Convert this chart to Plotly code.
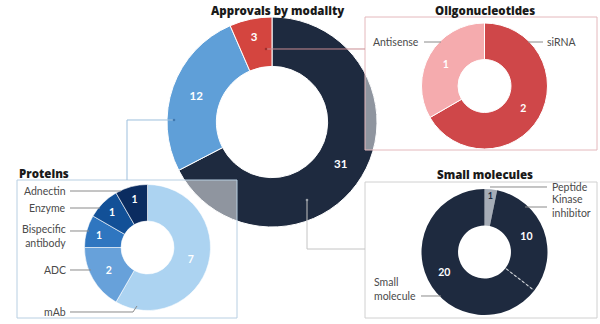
import numpy as np
import plotly.graph_objects as go

# ---------------- data ----------------
main_labels = ["Small molecules", "Proteins", "Oligonucleotides"]
main_values = [31, 12, 3]
main_colors = ["#1e2a3f", "#5f9fd8", "#d4453f"]

oligo_labels = ["siRNA", "Antisense"]
oligo_values = [2, 1]
oligo_colors = ["#cf4749", "#f5abae"]

prot_labels = ["mAb", "ADC", "Bispecific antibody", "Enzyme", "Adnectin"]
prot_values = [7, 2, 1, 1, 1]
prot_colors = ["#acd3f1", "#67a1da", "#2f76c0", "#125097", "#0b2c60"]

small_labels = ["Peptide", "Kinase inhibitor", "Small molecule"]
small_values = [1, 10, 20]
small_colors = ["#a6adb7", "#1e2a3f", "#1e2a3f"]

W, H = 600, 324
FONT = "Lato"
TFONT = "Open Sans"


def px(x):
    return x / W


def py(y):
    return 1 - y / H


def dom(cx, cy, d):
    return dict(x=[px(cx - d / 2), px(cx + d / 2)], y=[py(cy + d / 2), py(cy - d / 2)])


MAIN_C, MAIN_D, MAIN_HOLE = (272, 122), 210, 0.53
OL_C, SM_C, PR_C, SUB_D, SUB_HOLE = (484.5, 86), (484.5, 252), (147.5, 247.5), 126, 0.42

fig = go.Figure()


def add_pie(labels, values, colors, center, d, hole, txtcolors, size, lw=1.0):
    fig.add_trace(go.Pie(
        labels=labels, values=values, sort=False, direction="clockwise", rotation=0,
        hole=hole, domain=dom(center[0], center[1], d),
        marker=dict(colors=colors, line=dict(color="white", width=lw)),
        textinfo="value", textposition="inside", insidetextorientation="horizontal",
        textfont=dict(family=FONT, size=size, color=txtcolors, weight="bold"),
        showlegend=False, hoverinfo="label+value",
    ))


add_pie(main_labels, main_values, main_colors, MAIN_C, MAIN_D, MAIN_HOLE, ["white"] * 3, 11.5)
add_pie(oligo_labels, oligo_values, oligo_colors, OL_C, SUB_D, SUB_HOLE, ["white"] * 2, 10.5)
add_pie(prot_labels, prot_values, prot_colors, PR_C, SUB_D, SUB_HOLE, ["white"] * 5, 10.5, lw=0.6)
add_pie(small_labels, small_values, small_colors, SM_C, SUB_D, SUB_HOLE,
        ["#1e2a3f", "white", "white"], 10.5, lw=0)

shapes = []


def line(pts, color, width=1, dash="solid"):
    path = "M " + " L ".join(f"{px(x):.5f},{py(y):.5f}" for x, y in pts)
    shapes.append(dict(type="path", path=path, xref="paper", yref="paper",
                       line=dict(color=color, width=width, dash=dash), layer="above"))


def box(x0, y0, x1, y1, color):
    shapes.append(dict(type="rect", xref="paper", yref="paper", x0=px(x0), x1=px(x1),
                       y0=py(y1), y1=py(y0), line=dict(color=color, width=1),
                       fillcolor="rgba(0,0,0,0)", layer="above"))


def clip(poly, xmin, xmax, ymin, ymax):
    def clip_edge(pts, inside, inter):
        out = []
        for i in range(len(pts)):
            cur, prev = pts[i], pts[i - 1]
            if inside(cur):
                if not inside(prev):
                    out.append(inter(prev, cur))
                out.append(cur)
            elif inside(prev):
                out.append(inter(prev, cur))
        return out

    def ix(xc):
        return lambda a, b: (xc, a[1] + (b[1] - a[1]) * (xc - a[0]) / (b[0] - a[0]))

    def iy(yc):
        return lambda a, b: (a[0] + (b[0] - a[0]) * (yc - a[1]) / (b[1] - a[1]), yc)

    pts = clip_edge(poly, lambda p: p[0] >= xmin, ix(xmin))
    pts = clip_edge(pts, lambda p: p[0] <= xmax, ix(xmax))
    pts = clip_edge(pts, lambda p: p[1] >= ymin, iy(ymin))
    pts = clip_edge(pts, lambda p: p[1] <= ymax, iy(ymax))
    return pts


def veil(x0, y0, x1, y1):
    ang = np.linspace(0, 2 * np.pi, 240, endpoint=False)
    r = MAIN_D / 2
    circ = [(MAIN_C[0] + r * np.cos(a), MAIN_C[1] + r * np.sin(a)) for a in ang]
    pts = clip(circ, x0, x1, y0, y1)
    if len(pts) < 3:
        return
    path = "M " + " L ".join(f"{px(x):.5f},{py(y):.5f}" for x, y in pts) + " Z"
    shapes.append(dict(type="path", path=path, xref="paper", yref="paper",
                       fillcolor="rgba(255,255,255,0.5)", line=dict(width=0), layer="above"))


# panels
OL_BOX = (365, 17, 597, 150)
PR_BOX = (17, 180, 237, 318)
SM_BOX = (365, 182, 597, 318)
veil(*OL_BOX)
veil(*PR_BOX)
box(*OL_BOX, "#e4b8bc")
box(*PR_BOX, "#b8cfe2")
box(*SM_BOX, "#d0d0d0")

# connectors from main donut
line([(266, 49), (365, 49)], "#c98d92")
line([(174, 120), (127, 120), (127, 180)], "#9dbfdd")
line([(307, 200), (307, 249), (365, 249)], "#c4c4c4")
for (x, y, c) in [(266, 49, "#9e2f2c"), (174, 120, "#3f78b0"), (307, 200, "#9aa0a8")]:
    shapes.append(dict(type="circle", xref="paper", yref="paper", x0=px(x - 1.3), x1=px(x + 1.3),
                       y0=py(y + 1.3), y1=py(y - 1.3), fillcolor=c, line=dict(width=0), layer="above"))

# label leader lines
LC = "#8a8a8a"
line([(424, 42), (441, 42)], LC)
line([(528, 42), (543, 42)], LC)
line([(70, 191), (121, 191)], LC)
line([(70, 208), (100, 208)], LC)
line([(70, 231), (89, 231)], LC)
line([(70, 270), (91, 270)], LC)
line([(70, 312), (133, 312), (137, 306)], LC)
line([(490, 187), (547, 187)], LC)
line([(525, 207), (547, 207)], LC)
line([(421, 296), (441, 296)], LC)

# dashed divider between kinase inhibitor and small molecule
theta = 2 * np.pi * sum(small_values[:2]) / sum(small_values)
R = SUB_D / 2
r_in = R * SUB_HOLE
line([(SM_C[0] + r * np.sin(theta), SM_C[1] - r * np.cos(theta)) for r in (r_in + 1, R - 1)],
     "#c8ccd2", 1.2, "3px,2px")

fig.update_layout(shapes=shapes)

# text
TC = "#4a4a4a"
ann = []


def text(x, y, s, anchor="center", size=10.5, color=TC, bold=False, family=FONT):
    ann.append(dict(x=px(x), y=py(y), xref="paper", yref="paper", text=s, showarrow=False,
                    xanchor=anchor, yanchor="middle", align=anchor if anchor != "center" else "center",
                    font=dict(family=family, size=size, color=color, weight=800 if bold else "normal")))


text(278, 10, "Approvals by modality", size=11.5, color="#1a1a1a", bold=True, family=TFONT)
text(485, 10, "Oligonucleotides", size=11.5, color="#1a1a1a", bold=True, family=TFONT)
text(17, 173, "Proteins", anchor="left", size=11.5, color="#1a1a1a", bold=True, family=TFONT)
text(485, 174, "Small molecules", size=11.5, color="#1a1a1a", bold=True, family=TFONT)

text(421, 42, oligo_labels[1], anchor="right")
text(545, 42, oligo_labels[0], anchor="left")
text(68, 191, prot_labels[4], anchor="right")
text(68, 208, prot_labels[3], anchor="right")
text(68, 236, "Bispecific<br>antibody", anchor="right")
text(68, 270, prot_labels[1], anchor="right")
text(68, 312, prot_labels[0], anchor="right")
text(550, 187, small_labels[0], anchor="left")
text(550, 206, "Kinase<br>inhibitor", anchor="left")
text(372, 289, "Small<br>molecule", anchor="left")

fig.update_layout(
    annotations=ann,
    width=W, height=H, margin=dict(l=0, r=0, t=0, b=0),
    paper_bgcolor="white", plot_bgcolor="white",
    font=dict(family=FONT),
)

fig.write_html("out.html")
